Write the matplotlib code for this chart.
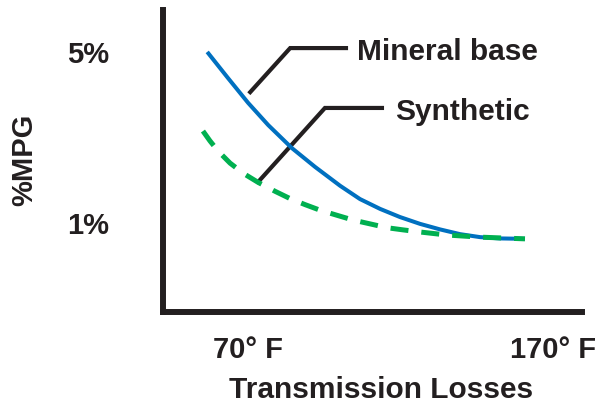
import matplotlib
matplotlib.use("Agg")
import matplotlib.pyplot as plt

# temperature (deg F) vs %MPG lost
mineral_x = [56.6, 63.4, 70.0, 76.6, 84.4, 92.0, 100.2, 106.7, 113.3, 119.8,
             126.4, 133.0, 139.5, 146.1, 152.6, 160.8]
mineral_y = [5.00, 4.39, 3.81, 3.29, 2.75, 2.31, 1.87, 1.56, 1.33, 1.14,
             0.98, 0.85, 0.74, 0.67, 0.64, 0.63]

synthetic_x = [55.2, 57.5, 60.2, 64.1, 68.7, 73.3, 78.9, 83.8, 88.7, 93.6,
               99.2, 104.4, 110.0, 115.6, 120.8, 126.4, 135.2, 146.1, 160.8]
synthetic_y = [3.15, 2.92, 2.68, 2.40, 2.15, 1.95, 1.74, 1.57, 1.43, 1.30,
               1.18, 1.07, 0.98, 0.89, 0.84, 0.79, 0.72, 0.67, 0.63]

x_ticks = [70, 170]
x_tick_labels = [u"70\u00b0 F", u"170\u00b0 F"]
y_ticks = [1, 5]
y_tick_labels = ["1%", "5%"]

# callout leader lines (elbow shape) and label anchors
mineral_callout_x = [70.7, 83.8, 102.1]
mineral_callout_y = [4.06, 5.09, 5.09]
synthetic_callout_x = [73.3, 95.2, 113.9]
synthetic_callout_y = [1.96, 3.69, 3.69]

BLACK = "#231f20"
BLUE = "#0070c0"
GREEN = "#00b050"

plt.rcParams["font.family"] = ["Liberation Sans", "DejaVu Sans"]
plt.rcParams["font.weight"] = "bold"

fig = plt.figure(figsize=(6.05, 4.07), dpi=100)
ax = fig.add_axes([163 / 605, 95 / 407, (582 - 163) / 605, (312 - 10) / 407])

ax.plot(mineral_x, mineral_y, color=BLUE, lw=2.9, solid_capstyle="butt",
        solid_joinstyle="round", zorder=3)
ax.plot(synthetic_x, synthetic_y, color=GREEN, lw=3.6, dashes=(3.6, 2.6),
        dash_joinstyle="round", zorder=4)

ax.plot(mineral_callout_x, mineral_callout_y, color=BLACK, lw=3.0,
        solid_joinstyle="miter", zorder=2)
ax.plot(synthetic_callout_x, synthetic_callout_y, color=BLACK, lw=3.0,
        solid_joinstyle="miter", zorder=2)
ax.text(105.7, 4.81, "Mineral base", fontsize=21.5, fontweight="bold",
        color=BLACK, va="baseline", ha="left")
ax.text(118.2, 3.41, "Synthetic", fontsize=21.5, fontweight="bold",
        color=BLACK, va="baseline", ha="left")

ax.set_xlim(42.1, 179.5)
ax.set_ylim(-1.08, 5.98)

ax.set_xticks(x_ticks)
ax.set_xticklabels(x_tick_labels, fontsize=21, fontweight="bold", color=BLACK)
ax.set_yticks(y_ticks)
ax.set_yticklabels(y_tick_labels, fontsize=21, fontweight="bold", color=BLACK)
ax.tick_params(axis="x", length=0, pad=17)
ax.tick_params(axis="y", length=0, pad=39)

for side in ["top", "right"]:
    ax.spines[side].set_visible(False)
for side in ["left", "bottom"]:
    ax.spines[side].set_linewidth(4.3)
    ax.spines[side].set_color(BLACK)
    ax.spines[side].set_capstyle("projecting")

fig.text(381 / 605, 1 - 398 / 407, "Transmission Losses", fontsize=21.5,
         fontweight="bold", color=BLACK, ha="center", va="baseline")
fig.text(24 / 605, 1 - 160 / 407, "%MPG", fontsize=21, fontweight="bold",
         color=BLACK, ha="center", va="center", rotation=90)

fig.savefig("out.png", dpi=100)
